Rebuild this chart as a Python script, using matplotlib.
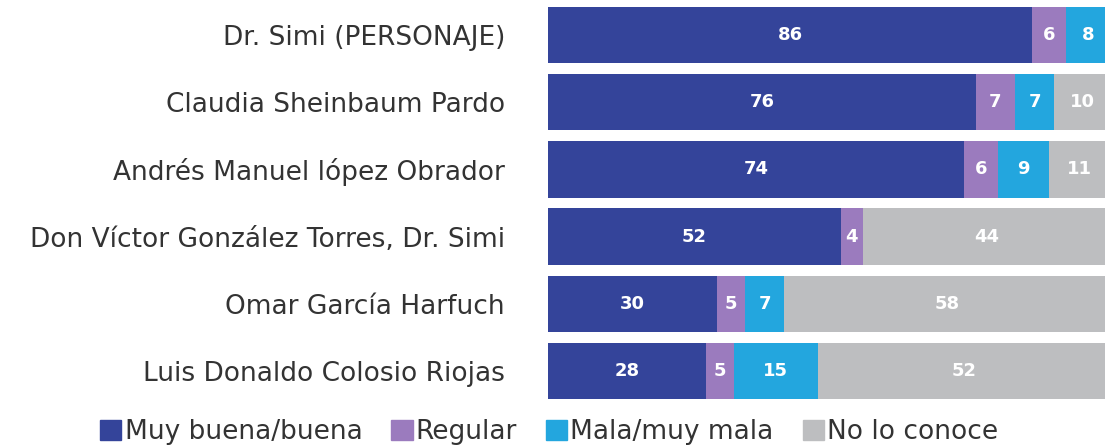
import matplotlib.pyplot as plt
from matplotlib.patches import Patch

###############################################################################
# Data
###############################################################################
names = [
    'Dr. Simi (PERSONAJE)',
    'Claudia Sheinbaum Pardo',
    'Andrés Manuel lópez Obrador',
    'Don Víctor González Torres, Dr. Simi',
    'Omar García Harfuch',
    'Luis Donaldo Colosio Riojas',
]
series = ['Muy buena/buena', 'Regular', 'Mala/muy mala', 'No lo conoce']
muy_buena = [86, 76, 74, 52, 30, 28]
regular = [6, 7, 6, 4, 5, 5]
mala = [8, 7, 9, 0, 7, 15]
no_conoce = [0, 10, 11, 44, 58, 52]
colors = ['#34449a', '#9b7bbe', '#23a6de', '#bdbec0']

###############################################################################
# Plot
###############################################################################
fig = plt.figure(figsize=(11.05, 4.48), dpi=100)
ax = fig.add_axes([0.496, 0.096, 0.504, 0.904])

rows = list(range(len(names)))
left = [0] * len(names)
for vals, col in zip([muy_buena, regular, mala, no_conoce], colors):
    ax.barh(rows, vals, left=left, height=0.84, color=col, lw=0)
    for i, v in enumerate(vals):
        if v > 0:
            ax.text(left[i] + v / 2, i, str(v), ha='center', va='center',
                    color='white', fontsize=13, fontweight='heavy',
                    family='DejaVu Sans')
    left = [l + v for l, v in zip(left, vals)]

ax.set_xlim(0, 99)
ax.set_ylim(5.506, -0.521)
ax.set_yticks(rows)
ax.set_yticklabels(names, fontsize=19, color='#333333')
ax.tick_params(axis='y', length=0, pad=31)
ax.set_xticks([])
for s in ax.spines.values():
    s.set_visible(False)

handles = [Patch(color=c, label=s) for s, c in zip(series, colors)]
fig.legend(handles=handles, loc='center', bbox_to_anchor=(0.497, 0.036),
           ncol=4, frameon=False, fontsize=19, handlelength=0.8,
           handleheight=0.8, handletextpad=0.12, columnspacing=1.1,
           labelcolor='#333333', borderpad=0)

fig.savefig('out.png', dpi=100)
plt.close('all')
